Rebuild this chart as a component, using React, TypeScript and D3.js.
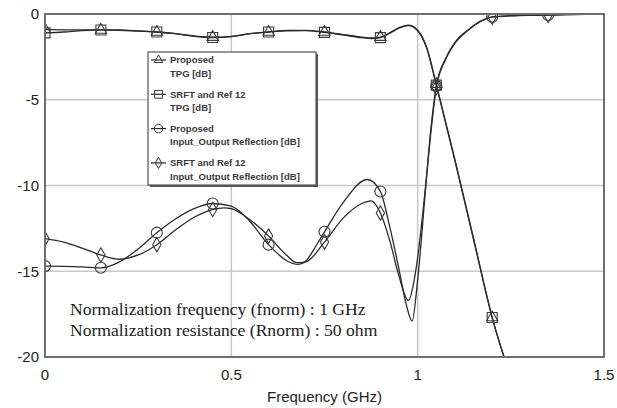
import React from 'react';
import * as d3 from 'd3';

// ---------- data ----------
const tpgFreq = [0, 0.05, 0.1, 0.15, 0.2, 0.25, 0.3, 0.35, 0.4, 0.45, 0.5, 0.55, 0.6, 0.65, 0.7, 0.75, 0.8, 0.85, 0.875, 0.9, 0.925, 0.95, 0.975, 1.0, 1.025, 1.05, 1.1, 1.15, 1.2, 1.25];
const tpgProposed = [-0.9, -0.92, -0.92, -0.93, -0.93, -0.98, -1.05, -1.15, -1.28, -1.35, -1.3, -1.15, -1.05, -0.96, -0.95, -1.05, -1.2, -1.35, -1.4, -1.35, -1.1, -0.8, -0.65, -0.95, -2.0, -4.1, -8.5, -13.1, -17.7, -21.2];
const tpgSrft = [-1.1, -1.05, -0.97, -0.93, -0.95, -1.0, -1.05, -1.15, -1.3, -1.37, -1.32, -1.15, -1.05, -0.98, -0.97, -1.07, -1.22, -1.38, -1.43, -1.38, -1.12, -0.82, -0.68, -0.98, -2.05, -4.15, -8.55, -13.15, -17.7, -21.2];

const reflFreqP = [0, 0.05, 0.1, 0.15, 0.2, 0.25, 0.3, 0.35, 0.4, 0.45, 0.5, 0.55, 0.6, 0.65, 0.68, 0.7, 0.725, 0.75, 0.8, 0.865, 0.9, 0.925, 0.95, 0.97, 0.985, 1.0, 1.02, 1.035, 1.05, 1.075, 1.1, 1.135, 1.17, 1.2, 1.25, 1.3, 1.35, 1.4, 1.5];
const reflProposed = [-14.7, -14.72, -14.75, -14.8, -14.45, -13.7, -12.75, -11.95, -11.35, -11.05, -11.2, -12.1, -13.45, -14.4, -14.6, -14.4, -13.6, -12.7, -11.0, -9.65, -10.35, -12.4, -14.9, -17.0, -17.9, -15.5, -10.5, -6.8, -4.2, -2.6, -1.65, -0.93, -0.4, -0.17, -0.1, -0.07, -0.06, -0.03, 0];

const reflFreqS = [0, 0.05, 0.1, 0.15, 0.2, 0.25, 0.3, 0.35, 0.4, 0.45, 0.48, 0.5, 0.55, 0.6, 0.65, 0.675, 0.7, 0.75, 0.8, 0.85, 0.875, 0.9, 0.925, 0.95, 0.975, 0.99, 1.0, 1.02, 1.035, 1.05, 1.075, 1.1, 1.135, 1.17, 1.2, 1.25, 1.3, 1.35, 1.4, 1.5];
const reflSrft = [-13.1, -13.3, -13.65, -14.05, -14.3, -14.05, -13.45, -12.6, -11.85, -11.4, -11.3, -11.35, -12.0, -12.95, -14.1, -14.5, -14.45, -13.3, -11.9, -11.05, -10.9, -11.6, -13.2, -15.3, -16.7, -15.6, -14.2, -10.3, -7.0, -4.3, -2.65, -1.7, -0.95, -0.42, -0.18, -0.11, -0.08, -0.07, -0.04, 0];

const markerFreqs = [0, 0.15, 0.3, 0.45, 0.6, 0.75, 0.9, 1.05, 1.2, 1.35];

const xTicks = [0, 0.5, 1, 1.5];
const xTickLabels = ['0', '0.5', '1', '1.5'];
const yTicks = [0, -5, -10, -15, -20];
const yTickLabels = ['0', '-5', '-10', '-15', '-20'];

const legendLines = [
  ['Proposed', 'TPG [dB]'],
  ['SRFT and Ref 12', 'TPG [dB]'],
  ['Proposed', 'Input_Output Reflection [dB]'],
  ['SRFT and Ref 12', 'Input_Output Reflection [dB]'],
];
const noteLines = [
  'Normalization frequency (fnorm) : 1 GHz',
  'Normalization resistance (Rnorm) : 50 ohm',
];
const xTitle = 'Frequency (GHz)';

// ---------- layout ----------
const W = 617, H = 408;
const PL = 45, PR = 604, PT = 14, PB = 357;

const x = d3.scaleLinear().domain([0, 1.5]).range([PL, PR]);
const y = d3.scaleLinear().domain([-20, 0]).range([PB, PT]);

type Series = { freq: number[]; vals: number[]; symbol: d3.SymbolType; size: number };
const series: Series[] = [
  { freq: tpgFreq, vals: tpgProposed, symbol: d3.symbolTriangle, size: 55 },
  { freq: tpgFreq, vals: tpgSrft, symbol: d3.symbolSquare, size: 100 },
  { freq: reflFreqP, vals: reflProposed, symbol: d3.symbolCircle, size: 95 },
  { freq: reflFreqS, vals: reflSrft, symbol: d3.symbolDiamond, size: 60 },
];

const line = d3.line<[number, number]>().x(d => x(d[0])).y(d => y(d[1])).curve(d3.curveMonotoneX);

const LINE_COLOR = '#2a2a2a';
const MARK_COLOR = '#3a3a3a';

export default function App() {
  return (
    <svg width={W} height={H} style={{ position: 'absolute', left: 0, top: 0, background: '#fff' }}
      fontFamily="'Liberation Sans', Arial, sans-serif">
      <defs>
        <clipPath id="plotclip">
          <rect x={PL} y={PT - 1} width={PR - PL} height={PB - PT + 1} />
        </clipPath>
      </defs>
      <rect x={0} y={0} width={W} height={H} fill="#fff" />
      {/* grid */}
      {xTicks.slice(1, -1).map(t => (
        <line key={'gx' + t} x1={x(t)} x2={x(t)} y1={PT} y2={PB} stroke="#c8c8c8" strokeWidth={1.5} />
      ))}
      {yTicks.slice(1, -1).map(t => (
        <line key={'gy' + t} x1={PL} x2={PR} y1={y(t)} y2={y(t)} stroke="#c8c8c8" strokeWidth={1.5} />
      ))}
      {/* curves */}
      <g clipPath="url(#plotclip)">
        {series.map((s, i) => (
          <path key={'l' + i} d={line(s.freq.map((f, k) => [f, s.vals[k]] as [number, number])) || ''}
            fill="none" stroke={LINE_COLOR} strokeWidth={1.3} />
        ))}
        {series.map((s, i) =>
          markerFreqs.map(mf => {
            const k = s.freq.findIndex(f => Math.abs(f - mf) < 1e-6);
            if (k < 0 || s.vals[k] < -20) return null;
            return (
              <path key={'m' + i + '_' + mf} transform={`translate(${x(mf)},${y(s.vals[k])})`}
                d={d3.symbol().type(s.symbol).size(s.size)() || ''} fill="none" stroke={MARK_COLOR} strokeWidth={1.1} />
            );
          })
        )}
      </g>
      {/* frame */}
      <rect x={PL} y={PT} width={PR - PL} height={PB - PT} fill="none" stroke="#6e6e6e" strokeWidth={2} />
      {/* ticks */}
      {yTicks.map((t, i) => (
        <text key={'yt' + t} x={39} y={y(t)} dy="0.35em" textAnchor="end" fontSize={15} fill="#222">{yTickLabels[i]}</text>
      ))}
      {xTicks.map((t, i) => (
        <text key={'xt' + t} x={x(t)} y={375} dy="0.35em" textAnchor="middle" fontSize={15} fill="#222">{xTickLabels[i]}</text>
      ))}
      <text x={(PL + PR) / 2} y={397} dy="0.35em" textAnchor="middle" fontSize={15} fill="#222">{xTitle}</text>
      {/* legend */}
      <g>
        <rect x={150} y={54} width={168} height={133} fill="#555" />
        <rect x={148} y={52} width={168} height={133} fill="#fff" stroke="#555" strokeWidth={1.2} />
        {legendLines.map((ln, i) => {
          const y0 = 60 + i * 34.3;
          const s = series[i];
          return (
            <g key={'lg' + i}>
              <line x1={151} x2={166} y1={y0} y2={y0} stroke={LINE_COLOR} strokeWidth={1.2} />
              <path transform={`translate(158.5,${y0})`} d={d3.symbol().type(s.symbol).size(s.size * 0.6)() || ''}
                fill="none" stroke={MARK_COLOR} strokeWidth={1} />
              <text x={170} y={y0} dy="0.35em" fontSize={9.5} fontWeight="bold" fill="#3a3a3a">{ln[0]}</text>
              <text x={170} y={y0 + 13.5} dy="0.35em" fontSize={9.5} fontWeight="bold" fill="#3a3a3a">{ln[1]}</text>
            </g>
          );
        })}
      </g>
      {/* note */}
      {noteLines.map((t, i) => (
        <text key={'n' + i} x={70} y={315 + i * 21} fontFamily="'Liberation Serif', 'Times New Roman', serif"
          fontSize={17.6} fill="#1a1a1a">{t}</text>
      ))}
    </svg>
  );
}
